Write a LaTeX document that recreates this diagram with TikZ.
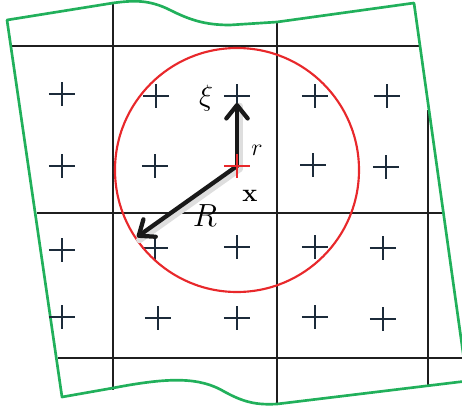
\RequirePackage{fix-cm}
\documentclass[tikz,border=0pt]{standalone}
\usepackage{amsmath,amssymb,bm}
\usepackage{xcolor}
\usepackage{tikz}
\usetikzlibrary{arrows.meta}
\definecolor{gridNavy}{HTML}{1C2B3A}
\definecolor{ballRed}{HTML}{E8282B}
\definecolor{patchGreen}{HTML}{21B05B}

\begin{document}
\begin{tikzpicture}[x=0.75pt, y=-0.75pt,
        cellline/.style={line width=1.5pt, black!88},
        gausspt/.style={line width=1.6pt, gridNavy},
        vec/.style={line width=3.2pt, black!90, line cap=round,
            -{Straight Barb[length=10pt, width=16pt, line width=3.2pt, line join=round, line cap=round]}},
        vecshade/.style={line width=5pt, black!13, line cap=round,
            transform canvas={shift={(1.8pt,-2.2pt)}}}]
        \clip (0,0) rectangle (462,408);
        \useasboundingbox (0,0) rectangle (462,408);

        \draw[cellline] (12,46) -- (419,46);
        \draw[cellline] (37,213) -- (443,213);
        \draw[cellline] (58,358) -- (462,358);
        \draw[cellline] (113,3) -- (113,390);
        \draw[cellline] (277,22) -- (277,404);
        \draw[cellline] (428,110) -- (428,387);

        \draw[patchGreen, line width=2pt, line join=round]
            (7,20) -- (113,3) .. controls (135,0) and (150,0) .. (170,10)
            .. controls (190,20) and (205,25) .. (230,25) -- (277,22) -- (414,3)
            -- (467,381) -- (277,404)
            .. controls (258,405) and (245,403) .. (225,392)
            .. controls (200,377) and (170,377) .. (113,388) -- (62,397) -- cycle;

        \foreach \px/\py [count=\i] in {62/94, 156/96, 237/96, 315/96, 387/96,
                62/166, 155/166, 313/165, 386/167,
                62/250, 155/248, 237/247, 315/247, 383/248,
                62/317, 158/318, 237/318, 315/317, 383/319}
            \draw[gausspt] (\px-13,\py) -- (\px+13,\py) (\px,\py-12) -- (\px,\py+12);

        \draw[ballRed, line width=1.6pt] (237,170) circle (122);

        \coordinate (x) at (237,166);
        \coordinate (xitip) at (237,103);
        \coordinate (Rtip) at (137,237);

        \draw[vecshade] (x) -- (xitip);
        \draw[vecshade] (x) -- (Rtip);
        \draw[vec] (x) -- (xitip);
        \draw[vec] (x) -- (Rtip);
        \draw[ballRed, line width=1.6pt] (224,166) -- (250,166) (237,154) -- (237,178);

        \node (xilab) at (206,98) {\fontsize{22}{26}\selectfont $\xi$};
        \node (rlab) at (257,150) {\fontsize{18}{22}\selectfont $r$};
        \node (xlab) at (250,196) {\fontsize{19}{23}\selectfont $\mathbf{x}$};
        \node (Rlab) at (205,216) {\fontsize{24}{28}\selectfont $R$};
    \end{tikzpicture}
\end{document}
